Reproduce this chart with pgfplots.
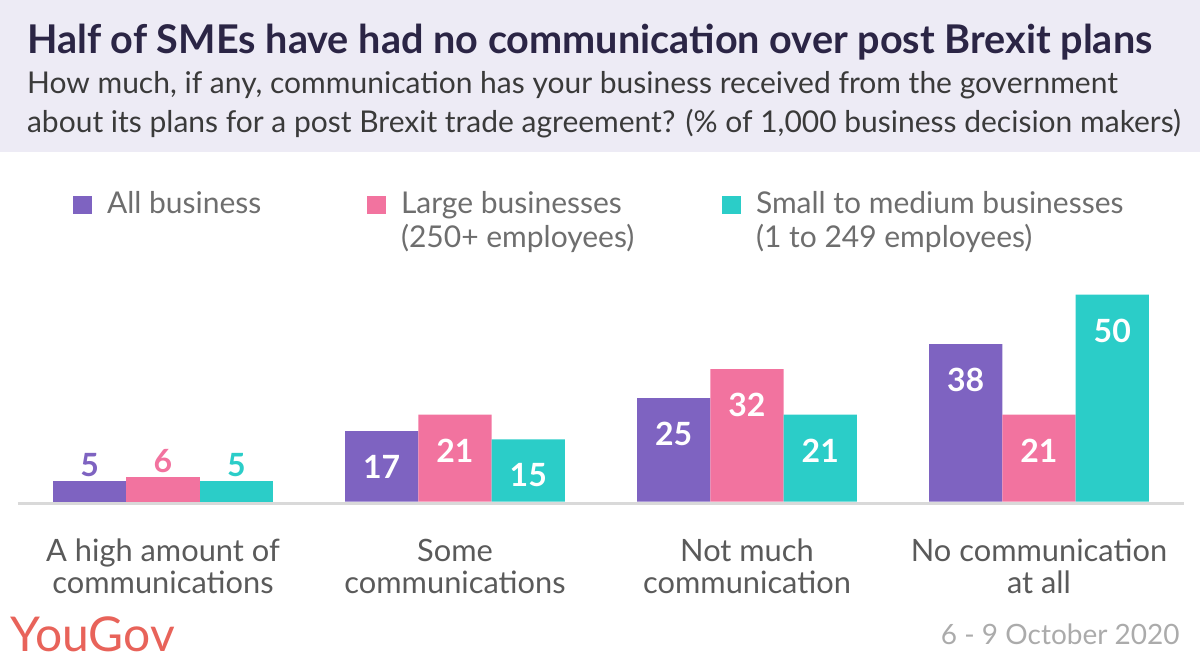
\documentclass[border=0pt]{standalone}
\usepackage{pgfplots}
\pgfplotsset{compat=1.18}
\usepackage{fontspec}
\setmainfont{Lato}
\definecolor{cA}{HTML}{7E63C1}
\definecolor{cL}{HTML}{F2739F}
\definecolor{cS}{HTML}{2BCDC8}
\definecolor{band}{HTML}{EDEBF5}
\definecolor{titlec}{HTML}{2B2545}
\definecolor{subc}{HTML}{3A3A3A}
\definecolor{legc}{HTML}{6E6E6E}
\definecolor{catc}{HTML}{5A5A5A}
\definecolor{datec}{HTML}{ABABAB}
\definecolor{yg}{HTML}{E8635A}
\definecolor{basec}{HTML}{D9D9D9}
\newcommand{\PX}[2]{(rel axis cs:{#1/1200},{1-#2/664})}
\begin{document}
\begin{tikzpicture}
\begin{axis}[
  scale only axis, width=600pt, height=332pt,
  xmin=-0.5582, xmax=3.5514, ymin=-39.25, ymax=121.14,
  axis lines=none, xtick=\empty, ytick=\empty, clip=false,
  /pgf/number format/assume math mode=true,
  ybar=0pt, bar width=36.65pt,
  inside/.style={nodes near coords, every node near coord/.append style={anchor=center, yshift=-18pt, text=white, font=\fontsize{16}{19}\selectfont\bfseries}},
  above/.style={nodes near coords, every node near coord/.append style={anchor=center, yshift=8pt, text=#1, font=\fontsize{16}{19}\selectfont\bfseries}},
]
% title band
\fill[band] \PX{0}{0} rectangle \PX{1200}{152};
\node[anchor=base west, text=titlec, font=\fontsize{19.8}{23}\selectfont\bfseries] at \PX{20}{54} {Half of SMEs have had no communication over post Brexit plans};
\node[anchor=base west, text=subc, font=\fontsize{15}{18}\selectfont] at \PX{20}{94} {How much, if any, communication has your business received from the government};
\node[anchor=base west, text=subc, font=\fontsize{15}{18}\selectfont] at \PX{20}{133} {about its plans for a post Brexit trade agreement? (\% of 1,000 business decision makers)};
% legend
\fill[cA] \PX{73}{196} rectangle \PX{92}{214};
\node[anchor=base west, text=legc, font=\fontsize{15}{18}\selectfont] at \PX{100}{214} {All business};
\fill[cL] \PX{367}{196} rectangle \PX{386}{214};
\node[anchor=base west, text=legc, font=\fontsize{15}{18}\selectfont] at \PX{394}{214} {Large businesses};
\node[anchor=base west, text=legc, font=\fontsize{15}{18}\selectfont] at \PX{394}{248} {(250+ employees)};
\fill[cS] \PX{722}{196} rectangle \PX{741}{214};
\node[anchor=base west, text=legc, font=\fontsize{15}{18}\selectfont] at \PX{749}{214} {Small to medium businesses};
\node[anchor=base west, text=legc, font=\fontsize{15}{18}\selectfont] at \PX{749}{248} {(1 to 249 employees)};
% baseline
\draw[basec, line width=1.5pt] ([yshift=-0.75pt]axis cs:-0.4966,0) -- ([yshift=-0.75pt]axis cs:3.4966,0);
% bars
\addplot[fill=cA, draw=none, bar shift=-36.65pt, above=cA] coordinates {(0,5)};
\addplot[fill=cL, draw=none, bar shift=0pt, above=cL] coordinates {(0,6)};
\addplot[fill=cS, draw=none, bar shift=36.65pt, above=cS] coordinates {(0,5)};
\addplot[fill=cA, draw=none, bar shift=-36.65pt, inside] coordinates {(1,17) (2,25) (3,38)};
\addplot[fill=cL, draw=none, bar shift=0pt, inside] coordinates {(1,21) (2,32) (3,21)};
\addplot[fill=cS, draw=none, bar shift=36.65pt, inside] coordinates {(1,15) (2,21) (3,50)};
% category labels
\node[align=center, text=catc, font=\fontsize{15.4}{16}\selectfont] at (axis cs:0,-15.58) {A high amount of\\communications};
\node[align=center, text=catc, font=\fontsize{15.4}{16}\selectfont] at (axis cs:1,-15.58) {Some\\communications};
\node[align=center, text=catc, font=\fontsize{15.4}{16}\selectfont] at (axis cs:2,-15.58) {Not much\\communication};
\node[align=center, text=catc, font=\fontsize{15.4}{16}\selectfont] at (axis cs:3,-15.58) {No communication\\at all};
% footer
\node[anchor=base west, inner sep=0pt, text=yg, font=\fontsize{24}{27}\selectfont] at \PX{10}{652} {YouGov};
\node[anchor=base east, inner sep=0pt, text=datec, font=\fontsize{14}{16}\selectfont] at \PX{1180}{645} {6 - 9 October 2020};
\end{axis}
\end{tikzpicture}
\end{document}
